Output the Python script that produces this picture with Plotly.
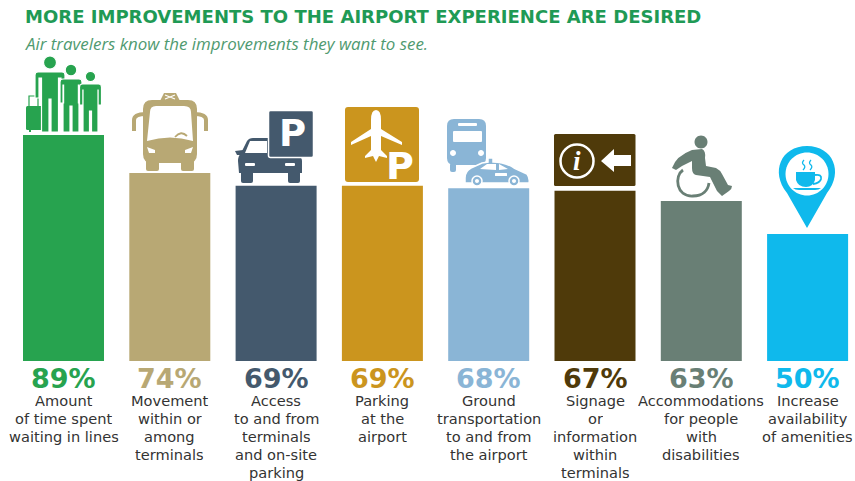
import re
import plotly.graph_objects as go

# Survey results
labels = [
    "Amount<br>of time spent<br>waiting in lines",
    "Movement<br>within or<br>among<br>terminals",
    "Access<br>to and from<br>terminals<br>and on-site<br>parking",
    "Parking<br>at the<br>airport",
    "Ground<br>transportation<br>to and from<br>the airport",
    "Signage<br>or<br>information<br>within<br>terminals",
    "Accommodations<br>for people<br>with<br>disabilities",
    "Increase<br>availability<br>of amenities",
]
values = [89, 74, 69, 69, 68, 67, 63, 50]
colors = ["#27a34f", "#b8a874", "#44596d", "#cb951e", "#8ab5d6", "#4f3a0a", "#697f75", "#0fb9ec"]
title = "MORE IMPROVEMENTS TO THE AIRPORT EXPERIENCE ARE DESIRED"
subtitle = "Air travelers know the improvements they want to see."

WIDTH, HEIGHT = 855, 481
BASE = 361
PX_PER_PCT = 2.54
STEP = 106.3
FIRST = 63.5
WHITE = "#ffffff"
shapes = []
texts = []


def circle(cx, cy, r):
    k = 0.5523 * r
    return (f"M {cx-r} {cy} C {cx-r} {cy-k} {cx-k} {cy-r} {cx} {cy-r} "
            f"C {cx+k} {cy-r} {cx+r} {cy-k} {cx+r} {cy} "
            f"C {cx+r} {cy+k} {cx+k} {cy+r} {cx} {cy+r} "
            f"C {cx-k} {cy+r} {cx-r} {cy+k} {cx-r} {cy} Z")


def rrect(x0, y0, x1, y1, r=2):
    return (f"M {x0+r} {y0} L {x1-r} {y0} Q {x1} {y0} {x1} {y0+r} L {x1} {y1-r} Q {x1} {y1} {x1-r} {y1} "
            f"L {x0+r} {y1} Q {x0} {y1} {x0} {y1-r} L {x0} {y0+r} Q {x0} {y0} {x0+r} {y0} Z")


def person(cx, head_y, r, s, a, t, arm_b, leg_b, w):
    body = (f"M {cx-a+3} {s} L {cx+a-3} {s} Q {cx+a} {s} {cx+a} {s+3} L {cx+a} {arm_b} L {cx+a-w} {arm_b} "
            f"L {cx+a-w} {s+6} L {cx+t} {s+6} L {cx+t} {leg_b} L {cx+1} {leg_b} L {cx+1} {s+27} "
            f"L {cx-1} {s+27} L {cx-1} {leg_b} L {cx-t} {leg_b} L {cx-t} {s+6} L {cx-a+w} {s+6} "
            f"L {cx-a+w} {arm_b} L {cx-a} {arm_b} L {cx-a} {s+3} Q {cx-a} {s} {cx-a+3} {s} Z")
    return circle(cx, head_y, r) + " " + body


class Icon:
    """Pixel-sized artwork that sits on top of one bar."""

    def __init__(self, index):
        self.index = index
        self.ox = FIRST + STEP * index
        self.oy = BASE - values[index] * PX_PER_PCT

    def _convert(self, path):
        def seg(match):
            cmd, body = match.group(1), match.group(2)
            nums = [float(n) for n in body.split()]
            out = []
            for i in range(0, len(nums), 2):
                out += [f"{nums[i]-self.ox:.2f}", f"{self.oy-nums[i+1]:.2f}"]
            return cmd + ",".join(out)
        return re.sub(r"([MLCQ])\s*([-\d. ]+)", seg, path).replace(" ", "")

    def add(self, path, fill=None, line=None, width=0):
        shapes.append(dict(
            type="path", path=self._convert(path), xref="x", yref="y",
            xsizemode="pixel", ysizemode="pixel",
            xanchor=self.index, yanchor=values[self.index], layer="above",
            fillcolor=fill or "rgba(0,0,0,0)", line=dict(color=line or "rgba(0,0,0,0)", width=width),
        ))

    def text(self, x, y, s, size, color, family, bold=False, italic=False):
        if bold:
            s = f"<b>{s}</b>"
        if italic:
            s = f"<i>{s}</i>"
        texts.append(dict(
            x=self.index, y=values[self.index], xref="x", yref="y", text=s, showarrow=False,
            xshift=x - self.ox, yshift=self.oy - y, xanchor="center", yanchor="middle",
            font=dict(size=size, color=color, family=family),
        ))


# Family with a suitcase
ic = Icon(0)
c = colors[0]
ic.add("M 29 108 L 29 96 L 38 96 L 38 108", None, c, 1.2)
ic.add(rrect(26, 106, 46, 130, 1.5), c)
ic.add("M 29 130 L 29 132 L 31 132 L 31 130 Z M 41 130 L 41 132 L 43 132 L 43 130 Z", c)
ic.add(person(50, 62.5, 6.5, 72, 15, 8.5, 98, 132, 4), c, WHITE, 1.2)
ic.add(person(71, 70, 5.8, 79, 11, 8, 103, 132, 3.6), c, WHITE, 1.2)
ic.add(person(90.5, 76.5, 5.2, 84, 11, 7.5, 105, 132, 3.4), c, WHITE, 1.2)

# Shuttle bus
ic = Icon(1)
c = colors[1]
ic.add("M 146 114 Q 134 114 134 120 L 134 131", None, c, 4)
ic.add("M 194 114 Q 206 114 206 120 L 206 131", None, c, 4)
ic.add("M 160 101 L 164 93 L 176 93 L 180 101 Z", c)
ic.add(rrect(143, 100, 197, 163, 9), c)
ic.add(rrect(146, 158, 159, 171, 2), c)
ic.add(rrect(181, 158, 194, 171, 2), c)
ic.add("M 150 112 Q 150 106 156 106 L 184 106 Q 191 106 191 112 L 193 141 Q 170 134 147 141 Z", WHITE)
ic.add("M 175 137 Q 181 130 187 136", None, c, 1.8)
ic.add("M 165 95 L 175 99 M 175 95 L 165 99", None, WHITE, 1.2)
ic.add("M 147 147 L 155 150 L 155 153 L 149 153 Z M 193 147 L 185 150 L 185 153 L 191 153 Z", WHITE)

# Car and parking sign
ic = Icon(2)
c = colors[2]
ic.add("M 235 151 L 243 150 L 243 155 L 237 155 Z", c)
ic.add("M 241 153 L 247 141 Q 249 138 253 138 L 272 138 L 272 156 L 298 156 Q 302 157 302 161 L 302 173 "
       "L 239 173 L 238 161 Q 238 156 241 153 Z", c)
ic.add(rrect(241, 170, 253, 183, 2), c)
ic.add(rrect(288, 170, 300, 183, 2), c)
ic.add("M 250 141 L 267 141 L 267 153 L 245 153 Z", WHITE)
ic.add(rrect(245, 163, 255, 166, 1) + " " + rrect(285, 163, 295, 166, 1), WHITE)
ic.add(rrect(268.5, 110.5, 313.5, 157.5, 2), c, WHITE, 1.5)
ic.text(292, 133.5, "P", 37, WHITE, "DejaVu Sans", bold=True)

# Airplane and parking sign
ic = Icon(3)
c = colors[3]
ic.add(rrect(345, 107, 419, 182, 3), c)
ic.add("M 371 120 Q 371 110 376 110 Q 381 110 381 120 L 381 129 L 402 142 L 402 145 L 381 136 L 381 150 "
       "L 387 156 L 387 158 L 379 156 L 376 162 L 373 156 L 365 158 L 365 156 L 371 150 L 371 136 L 351 145 "
       "L 351 142 L 371 129 Z", WHITE)
ic.text(400, 165.5, "P", 38, WHITE, "DejaVu Sans", bold=True)

# Bus and taxi
ic = Icon(4)
c = colors[4]
ic.add(rrect(447, 119, 486, 165, 7), c)
ic.add(rrect(450, 163, 456, 172, 2), c)
ic.add(rrect(453, 131, 482, 142, 1), WHITE)
ic.add(rrect(458, 123, 477, 126, 1), WHITE)
ic.add(circle(453, 153, 3) + " " + circle(481, 153, 3), WHITE)
ic.add("M 465 178 Q 465 171 471 168 L 482 163 L 488 162 L 488 158 L 493 158 L 493 162 Q 505 162 514 168 "
       "L 527 174 Q 530 178 529 183 L 465 183 Z", c, WHITE, 1.5)
ic.add("M 480 169 L 487 164 L 496 164 L 496 170 Z M 499 164 L 508 169 L 499 170 Z", WHITE)
ic.add(rrect(495, 173, 507, 176, 0.5), WHITE)
ic.add(circle(477, 181, 5) + " " + circle(514, 181, 5), c, WHITE, 1.5)
ic.add(circle(477, 181, 2) + " " + circle(514, 181, 2), WHITE)

# Information sign
ic = Icon(5)
c = colors[5]
ic.add(rrect(554, 134, 635.5, 186, 1.5), c)
ic.add(circle(577, 161, 16.5), None, WHITE, 2.5)
ic.add("M 601 161 L 614 149 L 614 155 L 631 155 L 631 166 L 614 166 L 614 172 Z", WHITE)
ic.text(577, 161, "i", 27, WHITE, "Liberation Serif", italic=True, bold=True)

# Wheelchair user
ic = Icon(6)
c = colors[6]
ic.add(circle(701, 142, 6.5), c)
ic.add("M 692 150 L 702 149 Q 706 151 705 158 L 706 166 L 716 168 Q 720 170 722 174 L 728 185 L 732 186 "
       "Q 732 189 729 191 L 722 196 L 717 191 L 710 177 L 696 175 Q 692 174 692 168 L 692 161 L 682 166 "
       "L 676 170 L 672 168 Q 676 156 692 150 Z", c)
ic.add("M 683 170 C 674 176 676 197 693 196 C 703 196 708 190 709 183", None, c, 2.8)

# Coffee location pin
ic = Icon(7)
c = colors[7]
ic.add("M 787 193 C 770 172 781 146 807 146 C 833 146 844 172 827 193 L 807 228 Z", c)
ic.add(circle(807, 174, 21.5), WHITE)
ic.add("M 796 172 L 815 172 L 815 180 Q 813 187 806 187 Q 798 187 796 180 Z", c)
ic.add("M 815 175 Q 822 174 821 179 Q 820 183 813 184", None, c, 1.8)
ic.add("M 793 188 L 821 188 Q 819 190 815 190 L 799 190 Q 795 190 793 188 Z", c)
ic.add("M 804 160 Q 801 163 804 165 Q 806 167 803 170 M 811 160 Q 808 163 811 165 Q 813 167 810 170", None, c, 1.3)

positions = list(range(len(values)))

fig = go.Figure(go.Bar(
    x=positions, y=values, marker=dict(color=colors, line_width=0), width=81 / STEP, hoverinfo="skip",
))

# Big percentage and description under each bar
LINE_GAP = 18.1
for i, v in enumerate(values):
    texts.append(dict(
        x=i, y=0, xref="x", yref="y", text=f"<b>{v}%</b>", showarrow=False, yanchor="middle",
        yshift=-17, height=24, font=dict(size=27, color=colors[i], family="DejaVu Sans"),
    ))
    for j, line in enumerate(labels[i].split("<br>")):
        texts.append(dict(
            x=i, y=0, xref="x", yref="y", text=line, showarrow=False, yanchor="middle",
            yshift=-38.5 - LINE_GAP * j, height=18, font=dict(size=14.6, color="#333333", family="DejaVu Sans"),
        ))

# Paper coordinates span the plot area only, which stops at the bar baseline
texts.append(dict(xref="paper", yref="paper", x=23 / WIDTH, y=1 - 17 / BASE, xanchor="left", yanchor="middle",
                  text=f"<b>{title}</b>", showarrow=False, font=dict(size=18.05, color="#1f9a55", family="DejaVu Sans")))
texts.append(dict(xref="paper", yref="paper", x=23 / WIDTH, y=1 - 44 / BASE, xanchor="left", yanchor="middle",
                  text=f"<i>{subtitle}</i>", showarrow=False, font=dict(size=16.9, color="#4f9a70", family="Open Sans")))

fig.update_layout(
    width=WIDTH, height=HEIGHT, margin=dict(l=0, r=0, t=0, b=HEIGHT - BASE, autoexpand=False),
    paper_bgcolor=WHITE, plot_bgcolor=WHITE, showlegend=False,
    shapes=shapes, annotations=texts,
    xaxis=dict(
        range=[-FIRST / STEP, (WIDTH - FIRST) / STEP], tickmode="array", tickvals=positions,
        showticklabels=False, showgrid=False, zeroline=False, showline=False, ticks="",
    ),
    yaxis=dict(range=[0, BASE / PX_PER_PCT], visible=False),
)

fig.write_html("out.html")
